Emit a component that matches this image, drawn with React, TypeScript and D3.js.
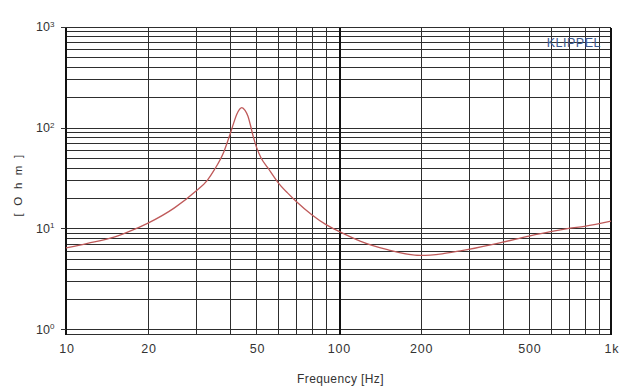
import React from 'react';
import * as d3 from 'd3';

// impedance curve
const freqs = [10, 12, 15, 17, 20, 25, 30, 33, 35, 38, 40, 41.2, 42.3, 44.2, 45.4, 46.5, 47.5, 48.5, 50, 52, 55, 60, 65, 70, 80, 90, 100, 120, 150, 200, 240, 280, 300, 400, 500, 600, 700, 800, 1000];
const ohms = [6.4, 7.1, 8.2, 9.3, 11.3, 16, 23.5, 30, 38, 58, 86, 110, 135, 158, 148, 130, 106, 84, 64, 50, 40, 28.5, 22.5, 18.5, 13.6, 10.9, 9.4, 7.5, 6.2, 5.4, 5.6, 6.0, 6.2, 7.3, 8.4, 9.3, 10.0, 10.5, 11.8];

const xTickValues = [10, 20, 50, 100, 200, 500, 1000];
const xTickLabels = ['10', '20', '50', '100', '200', '500', '1k'];
const yDecades = [1, 10, 100, 1000];
const yExponents = ['0', '1', '2', '3'];

const W = 640, H = 390;
const left = 66, right = 611, top = 26.7, bottom = 329.3, frameBottom = 333.5;

export default function App() {
  const x = d3.scaleLog().domain([10, 1000]).range([left, right]);
  const y = d3.scaleLog().domain([1, 1000]).range([bottom, top]);
  const px = (v: number) => Math.round(v) + 0.5;

  const line = d3.line<number>()
    .x((d, i) => x(freqs[i]))
    .y(d => y(d))
    .curve(d3.curveMonotoneX);

  const font = '"Liberation Sans", Arial, sans-serif';
  const grid = '#2e2e2e';

  return (
    <div style={{ position: 'absolute', left: 0, top: 0 }}>
      <svg width={W} height={H} style={{ display: 'block', background: '#fff' }}>
        <g shapeRendering="crispEdges">
          {y.ticks().map((t, i) => (
            <line key={'h' + i} x1={left} x2={right} y1={px(y(t))} y2={px(y(t))} stroke={grid} strokeWidth={1} />
          ))}
          <line x1={left} x2={right} y1={px(frameBottom)} y2={px(frameBottom)} stroke={grid} strokeWidth={1} />
          {x.ticks().map((t, i) => (
            <line key={'v' + i} x1={px(x(t))} x2={px(x(t))} y1={px(top)} y2={px(frameBottom)}
              stroke={t === 100 ? '#111' : grid} strokeWidth={t === 100 ? 2 : 1} />
          ))}
          <line x1={left} x2={left} y1={px(top)} y2={px(frameBottom)} stroke="#111" strokeWidth={2} />
          <line x1={right} x2={right} y1={px(top)} y2={px(frameBottom)} stroke="#111" strokeWidth={2} />
          {yDecades.map((d, i) => (
            <line key={'ytk' + i} x1={left - 5} x2={left} y1={px(y(d))} y2={px(y(d))} stroke="#333" strokeWidth={1} />
          ))}
        </g>

        {yDecades.map((d, i) => (
          <text key={'yt' + i} x={36} y={y(d) + 4.5} fontFamily={font} fontSize={12.5} fill="#333">
            10<tspan fontSize={8} dy={-4.5}>{yExponents[i]}</tspan>
          </text>
        ))}

        {xTickValues.map((v, i) => (
          <text key={'xt' + i} x={x(v) + 1} y={353} textAnchor="middle" fontFamily={font}
            fontSize={12.5} fill="#333" letterSpacing={0.8}>{xTickLabels[i]}</text>
        ))}

        <text x={340.5} y={383} textAnchor="middle" fontFamily={font} fontSize={12} fill="#333" letterSpacing={0.4}>
          Frequency [Hz]
        </text>
        <text transform="translate(22,184.5) rotate(-90)" textAnchor="middle" fontFamily={font}
          fontSize={11.5} fill="#333" letterSpacing={2.2}>[ O h m ]</text>

        <text x={601} y={46.7} textAnchor="end" fontFamily={font} fontSize={12.5} fill="#3b5a92" letterSpacing={0.5}>
          KLIPPEL
        </text>

        <path d={line(ohms) || ''} fill="none" stroke="#bf5a5a" strokeWidth={1.3} />
      </svg>
    </div>
  );
}
